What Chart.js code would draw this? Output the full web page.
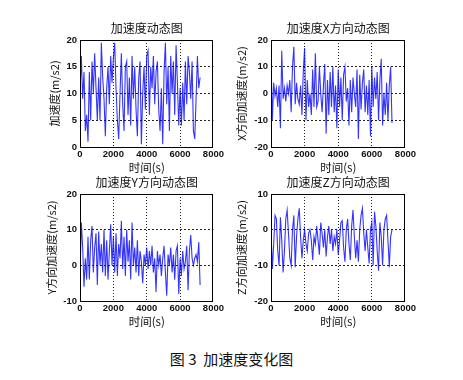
<!DOCTYPE html>
<html>
<head>
<meta charset="utf-8">
<script src="https://cdn.jsdelivr.net/npm/chart.js@4/dist/chart.umd.min.js"></script>
<style>
  body { margin: 0; background: #fff; }
  #page { position: relative; width: 463px; height: 380px; background: #fff; }
  canvas { position: absolute; }
  .caption {
    position: absolute; left: 0; width: 463px; top: 349px; text-align: center;
    font-family: "Noto Sans CJK SC"; font-size: 15px; color: #111; line-height: 20px;
  }
</style>
</head>
<body>
<div id="page">
  <canvas id="c1" width="190" height="161" style="left:36px;top:14px"></canvas>
  <canvas id="c2" width="191" height="161" style="left:227px;top:14px"></canvas>
  <canvas id="c3" width="190" height="161" style="left:36px;top:168px"></canvas>
  <canvas id="c4" width="191" height="161" style="left:227px;top:168px"></canvas>
  <div class="caption">图 3&nbsp; 加速度变化图</div>
</div>
<script>
// sampled every 80 s, 0..7200 s
const sampleStep = 80;

const accTotal = [10, 17, 9, 14, 3, 6, 1, 14, 5, 16, 10, 17.5, 11,
  5, 13, 5, 19.5, 13, 9, 2, 11, 15, 8, 17, 12, 16.5,
  19.5, 11, 5, 1.5, 10, 17.5, 8, 3, 15, 16, 6, 13,
  4, 17, 9, 15, 7, 2, 13, 16, 0.5, 10, 15, 7, 17,
  18, 6, 15, 11, 17, 8, 14, 16, 7, 3, 11, 0.5,
  14, 19.5, 8, 15, 3, 17, 10, 16, 6, 19, 12, 4, 11,
  4, 12, 5, 16, 8, 17, 14, 9, 16, 3, 1.5, 9, 17, 11, 13];

const accX = [13, -10, 4, -1, 2, -5, 3, -13, 16, -2, 2, -3, 3,
  0, 5, -7, 10, 17.5, -4, 4, -2, -4, 3, -8, 8, 17,
  -10, 5, -5, 0, -8, 9, -5, 15, -5, -3, 10, 0,
  -7, 3, 11, -15, 5, -8, 8, -5, 10, -7, 3, -13, 9,
  -5, 6, -10, 7, 10, -3, 2, -12, 5, -7, 6, 0,
  -5, 9, -17, 7, -6, 4, 9, -7, 3, -8, 5, -16, 10,
  -5, 6, -2, 8, -10, 5, 13, -12, 0, -8, 4, -10, 3, 10, -11];

const accY = [-3, 12, 5, -6, 2, -4, 8, -4, 7, 11, -2, 5, 9,
  -5.5, 9.5, 0, 6, -2, 10, -3, 7, -4, 4, 11.5, 0, 8,
  -2, 9, -3, 6, 2, 12.5, -1, 8, -3, 10, 1, 7,
  -4, 12, 0, 5, -2, 7, -3, 4, 1, -5, 3, 0, 5,
  -1, 4, 0, 5.5, -2, 2, -7.5, 4, 0, 3, -3, 2,
  5.5, -2, -8.5, 3, 0, 5, -2, 3, -4, 4, 5.5, -8, 2,
  -3, 4, -1, 1, 5.5, -7, 4, 8.5, 2, 0, 2, 3, 1, 6.5, -5.5];

const accZ = [0, -11, -4, 4, 3, -6, -10, 3.5, -3, -12, -6, 3, 5.5,
  -1, -8, -10, 0, 4, -10.5, -2, 3, 6, -2, -8, -3, 0,
  -4, -6, -1, 0, -3, -8.5, -2, -4, 1, -3, -7, 2,
  -1, -5, 0, -7.5, -2, 1, -4, 0, -6, -2, -4, 0, -7,
  -3, 2, 2.5, -5, -9, 0, 3, -4, -8.5, 1, 5.5, -2,
  -8, -3, -9, 0, 4, 6, -1, -6, 0, -5, -9.5, 0, 2,
  -10, 5, 1, -6, -11.5, 2, -2, -10, 0, 3, 4, -3, -10.5, -2, 0];

const timeTicks = [0, 2000, 4000, 6000, 8000];
const ticksTotal = [0, 5, 10, 15, 20];
const ticksX = [-20, -10, 0, 10, 20];
const ticksY = [-10, 0, 10, 20];
const ticksZ = [-20, -10, 0, 10];

const titles = ["加速度动态图", "加速度X方向动态图", "加速度Y方向动态图", "加速度Z方向动态图"];
const yLabels = ["加速度(m/s2)", "X方向加速度(m/s2)", "Y方向加速度(m/s2)", "Z方向加速度(m/s2)"];
const xLabel = "时间(s)";

const cjk = "Noto Sans CJK SC";

const boxPlugin = {
  id: "box",
  afterDraw: (chart) => {
    const { ctx, chartArea: a } = chart;
    ctx.save();
    ctx.strokeStyle = "#000";
    ctx.lineWidth = 1;
    ctx.strokeRect(Math.round(a.left) + 0.5, Math.round(a.top) + 0.5,
      Math.round(a.right - a.left) - 1, Math.round(a.bottom - a.top));
    ctx.restore();
  },
};

const edgeGrid = (ctx) => {
  const s = ctx.scale;
  const v = ctx.tick ? ctx.tick.value : null;
  if (v === s.min || v === s.max) return "rgba(0,0,0,0)";
  return "#222";
};

const plainTick = (v) => String(v);

const makeChart = (id, series, yTicks, title, yLabel, yTitlePad) => {
  const points = series.map((v, i) => ({ x: i * sampleStep, y: v }));
  return new Chart(document.getElementById(id), {
    type: "line",
    data: {
      datasets: [{
        data: points,
        borderColor: "rgba(0,0,255,0.8)",
        borderWidth: 1.1,
        pointRadius: 0,
        tension: 0,
        fill: false,
      }],
    },
    options: {
      responsive: false,
      animation: false,
      events: [],
      layout: { padding: { top: 6.8, right: 5, bottom: 0, left: 0 } },
      plugins: {
        legend: { display: false },
        tooltip: { enabled: false },
        title: {
          display: true,
          fullSize: false,
          text: title,
          color: "#111",
          font: { family: cjk, size: 12, weight: "normal", lineHeight: 1.2 },
          padding: { top: 0, bottom: 4.8 },
        },
      },
      scales: {
        x: {
          type: "linear",
          min: 0,
          max: 8000,
          afterBuildTicks: (axis) => { axis.ticks = timeTicks.map((v) => ({ value: v })); },
          afterFit: (axis) => { axis.height = 28; },
          grid: { color: edgeGrid, lineWidth: 1, drawTicks: false },
          border: { display: false, dash: [1, 2] },
          ticks: {
            autoSkip: false,
            maxRotation: 0,
            padding: 2,
            color: "#111",
            callback: plainTick,
            font: { family: "Liberation Sans", size: 9.5, weight: "bold" },
          },
          title: {
            display: true,
            text: xLabel,
            color: "#111",
            font: { family: cjk, size: 11.5, lineHeight: 1.2 },
            padding: { top: 0, bottom: 0 },
          },
        },
        y: {
          type: "linear",
          min: yTicks[0],
          max: yTicks[yTicks.length - 1],
          afterBuildTicks: (axis) => { axis.ticks = yTicks.map((v) => ({ value: v })); },
          afterFit: (axis) => { axis.width = 44; },
          grid: { color: edgeGrid, lineWidth: 1, drawTicks: false },
          border: { display: false, dash: [2, 2] },
          ticks: {
            autoSkip: false,
            padding: 3,
            color: "#111",
            callback: plainTick,
            font: { family: "Liberation Sans", size: 9.5, weight: "bold" },
          },
          title: {
            display: true,
            text: yLabel,
            color: "#111",
            font: { family: cjk, size: 11, lineHeight: 1.2 },
            padding: { top: yTitlePad, bottom: 0 },
          },
        },
      },
    },
    plugins: [boxPlugin],
  });
};

makeChart("c1", accTotal, ticksTotal, titles[0], yLabels[0], 11.8);
makeChart("c2", accX, ticksX, titles[1], yLabels[1], 7.8);
makeChart("c3", accY, ticksY, titles[2], yLabels[2], 8.8);
makeChart("c4", accZ, ticksZ, titles[3], yLabels[3], 7.8);
</script>
</body>
</html>
